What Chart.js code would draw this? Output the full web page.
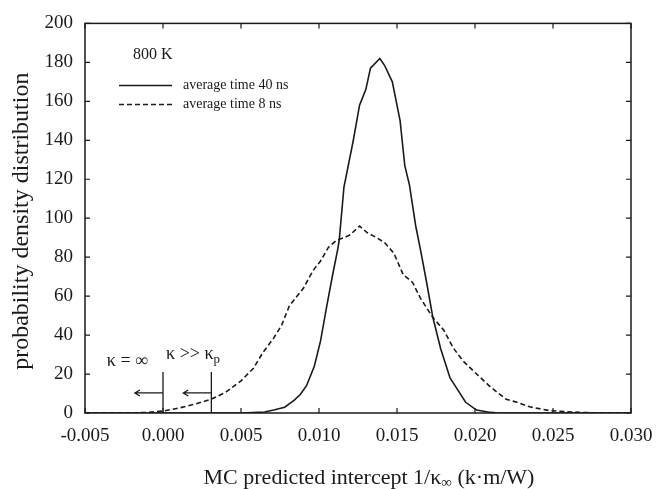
<!DOCTYPE html>
<html>
<head>
<meta charset="utf-8">
<script src="https://cdn.jsdelivr.net/npm/chart.js@4"></script>
<style>
html, body { margin: 0; padding: 0; background: #fff; }
</style>
</head>
<body>
<canvas id="pdfChart" width="667" height="489"></canvas>
<script>
// tick values
const xTicks = [-0.005, 0.000, 0.005, 0.010, 0.015, 0.020, 0.025, 0.030];
const yTicks = [0, 20, 40, 60, 80, 100, 120, 140, 160, 180, 200];

// average time 40 ns
const x40 = [-0.005, 0.005, 0.0065, 0.0071, 0.0078, 0.0084, 0.0088, 0.0092, 0.0097, 0.0101, 0.0105, 0.0109, 0.0112, 0.0113, 0.0116, 0.0122, 0.0126, 0.0130, 0.0133, 0.0139, 0.0142, 0.0147, 0.0152, 0.0155, 0.0158, 0.0162, 0.0165, 0.0169, 0.0173, 0.0178, 0.0184, 0.0188, 0.0194, 0.0201, 0.0210, 0.0215, 0.030];
const y40 = [0, 0, 0.5, 1.5, 3, 6.5, 9.5, 14, 24, 37, 55, 72, 84, 89, 116, 140, 158, 166, 177, 182, 178.5, 170, 150, 127, 117, 96, 84, 67, 49, 33, 18, 13, 5.5, 1.5, 0.3, 0, 0];

// average time 8 ns
const x8 = [-0.005, -0.002, -0.001, 0.000, 0.001, 0.002, 0.003, 0.004, 0.005, 0.0058, 0.0064, 0.0071, 0.0076, 0.0081, 0.0086, 0.0090, 0.0094, 0.0097, 0.0101, 0.0106, 0.0111, 0.0116, 0.0120, 0.0126, 0.0131, 0.0137, 0.0142, 0.0148, 0.0154, 0.0160, 0.0165, 0.0173, 0.0180, 0.0186, 0.0192, 0.0201, 0.0210, 0.0220, 0.0227, 0.0235, 0.0248, 0.0267, 0.0280, 0.030];
const y8 = [0, 0, 0.3, 1, 2.5, 4.5, 6.8, 10.5, 16.5, 23, 31, 38.5, 45, 55, 60, 64, 70, 74, 78, 85, 88.5, 90, 91.5, 96, 92.5, 90, 87.5, 82, 71, 67, 59, 49, 42.5, 33.5, 27, 20, 13.3, 7, 5.5, 3.2, 1.2, 0.3, 0, 0];

// kappa limits marked at the bottom left
const kappaX = [0.000, 0.0031];
const kappaTop = 21;
const arrowY = 10.3;
const arrowLen = 0.0018;

const serif = "'Liberation Serif', 'Times New Roman', serif";
const ink = '#1a1a1a';

function toPoints(xs, ys) {
	return xs.map((x, i) => ({ x: x, y: ys[i] }));
}

const frameAndText = {
	id: 'frameAndText',
	afterDraw(chart) {
		const ctx = chart.ctx;
		const area = chart.chartArea;
		const xs = chart.scales.x;
		const ys = chart.scales.y;
		ctx.save();
		ctx.strokeStyle = ink;
		ctx.fillStyle = ink;

		// box and inner ticks
		ctx.lineWidth = 1.5;
		ctx.strokeRect(area.left, area.top, area.right - area.left, area.bottom - area.top);
		ctx.lineWidth = 1.2;
		ctx.beginPath();
		xTicks.forEach(v => {
			const px = xs.getPixelForValue(v);
			ctx.moveTo(px, area.bottom); ctx.lineTo(px, area.bottom - 5);
			ctx.moveTo(px, area.top); ctx.lineTo(px, area.top + 5);
		});
		yTicks.forEach(v => {
			const py = ys.getPixelForValue(v);
			ctx.moveTo(area.left, py); ctx.lineTo(area.left + 5, py);
			ctx.moveTo(area.right, py); ctx.lineTo(area.right - 5, py);
		});
		ctx.stroke();

		// kappa markers with arrows
		ctx.lineWidth = 1.3;
		kappaX.forEach(v => {
			const px = xs.getPixelForValue(v);
			const top = ys.getPixelForValue(kappaTop);
			const ay = ys.getPixelForValue(arrowY);
			const ax = xs.getPixelForValue(v - arrowLen);
			ctx.beginPath();
			ctx.moveTo(px, area.bottom); ctx.lineTo(px, top);
			ctx.moveTo(px, ay); ctx.lineTo(ax, ay);
			ctx.moveTo(ax + 5, ay - 3); ctx.lineTo(ax, ay); ctx.lineTo(ax + 5, ay + 3);
			ctx.stroke();
		});
		ctx.font = '18px ' + serif;
		ctx.textBaseline = 'alphabetic';
		ctx.textAlign = 'left';
		ctx.fillText('\u03ba = \u221e', xs.getPixelForValue(-0.0036), ys.getPixelForValue(24.2));
		let kx = xs.getPixelForValue(0.0002);
		const ky = ys.getPixelForValue(27.8);
		const kTxt = '\u03ba >> \u03ba';
		ctx.fillText(kTxt, kx, ky);
		kx += ctx.measureText(kTxt).width;
		ctx.font = '13px ' + serif;
		ctx.fillText('p', kx, ky + 4);

		// legend
		ctx.font = '16px ' + serif;
		ctx.textBaseline = 'middle';
		ctx.fillText('800 K', area.left + 48, area.top + 31);
		ctx.font = '14px ' + serif;
		chart.data.datasets.forEach((ds, i) => {
			const ly = area.top + 62 + i * 19;
			ctx.lineWidth = 1.5;
			ctx.setLineDash(ds.borderDash || []);
			ctx.beginPath();
			ctx.moveTo(area.left + 34, ly); ctx.lineTo(area.left + 87, ly);
			ctx.stroke();
			ctx.setLineDash([]);
			ctx.fillText(ds.label, area.left + 98, ly);
		});

		// y title
		ctx.save();
		ctx.font = '24px ' + serif;
		ctx.textAlign = 'center';
		ctx.textBaseline = 'alphabetic';
		ctx.translate(28, (area.top + area.bottom) / 2 + 3);
		ctx.rotate(-Math.PI / 2);
		ctx.fillText('probability density distribution', 0, 0);
		ctx.restore();

		// x title with subscript
		const parts = [
			{ t: 'MC predicted intercept 1/\u03ba', f: '22px ', dy: 0 },
			{ t: '\u221e', f: '15px ', dy: 5 },
			{ t: ' (k\u00b7m/W)', f: '22px ', dy: 0 }
		];
		let total = 0;
		parts.forEach(p => { ctx.font = p.f + serif; p.w = ctx.measureText(p.t).width; total += p.w; });
		let tx = (area.left + area.right) / 2 + 11 - total / 2;
		ctx.textAlign = 'left';
		parts.forEach(p => {
			ctx.font = p.f + serif;
			ctx.fillText(p.t, tx, 478 + p.dy);
			tx += p.w;
		});
		ctx.restore();
	}
};

const target = document.getElementById('pdfChart');
new Chart(target, {
	type: 'scatter',
	data: {
		datasets: [{
			label: 'average time 40 ns',
			data: toPoints(x40, y40),
			showLine: true,
			borderColor: ink,
			borderWidth: 1.6,
			pointRadius: 0,
			tension: 0
		}, {
			label: 'average time 8 ns',
			data: toPoints(x8, y8),
			showLine: true,
			borderColor: ink,
			borderWidth: 1.6,
			borderDash: [5, 3],
			pointRadius: 0,
			tension: 0
		}]
	},
	options: {
		responsive: false,
		animation: false,
		layout: { padding: { left: 0, top: 17, right: 36, bottom: 0 } },
		plugins: {
			legend: { display: false },
			tooltip: { enabled: false }
		},
		scales: {
			x: {
				type: 'linear',
				min: -0.005,
				max: 0.030,
				afterBuildTicks: s => { s.ticks = xTicks.map(v => ({ value: v })); },
				afterFit: s => { s.height = 76; },
				ticks: {
					callback: v => v.toFixed(3),
					font: { family: serif, size: 19 },
					color: ink,
					padding: 12,
					maxRotation: 0
				},
				grid: { drawOnChartArea: false, drawTicks: false },
				border: { display: false }
			},
			y: {
				min: 0,
				max: 200,
				afterBuildTicks: s => { s.ticks = yTicks.map(v => ({ value: v })); },
				afterFit: s => { s.width = 85; },
				ticks: {
					font: { family: serif, size: 19 },
					color: ink,
					padding: 12
				},
				grid: { drawOnChartArea: false, drawTicks: false },
				border: { display: false }
			}
		}
	},
	plugins: [frameAndText]
});
</script>
</body>
</html>
